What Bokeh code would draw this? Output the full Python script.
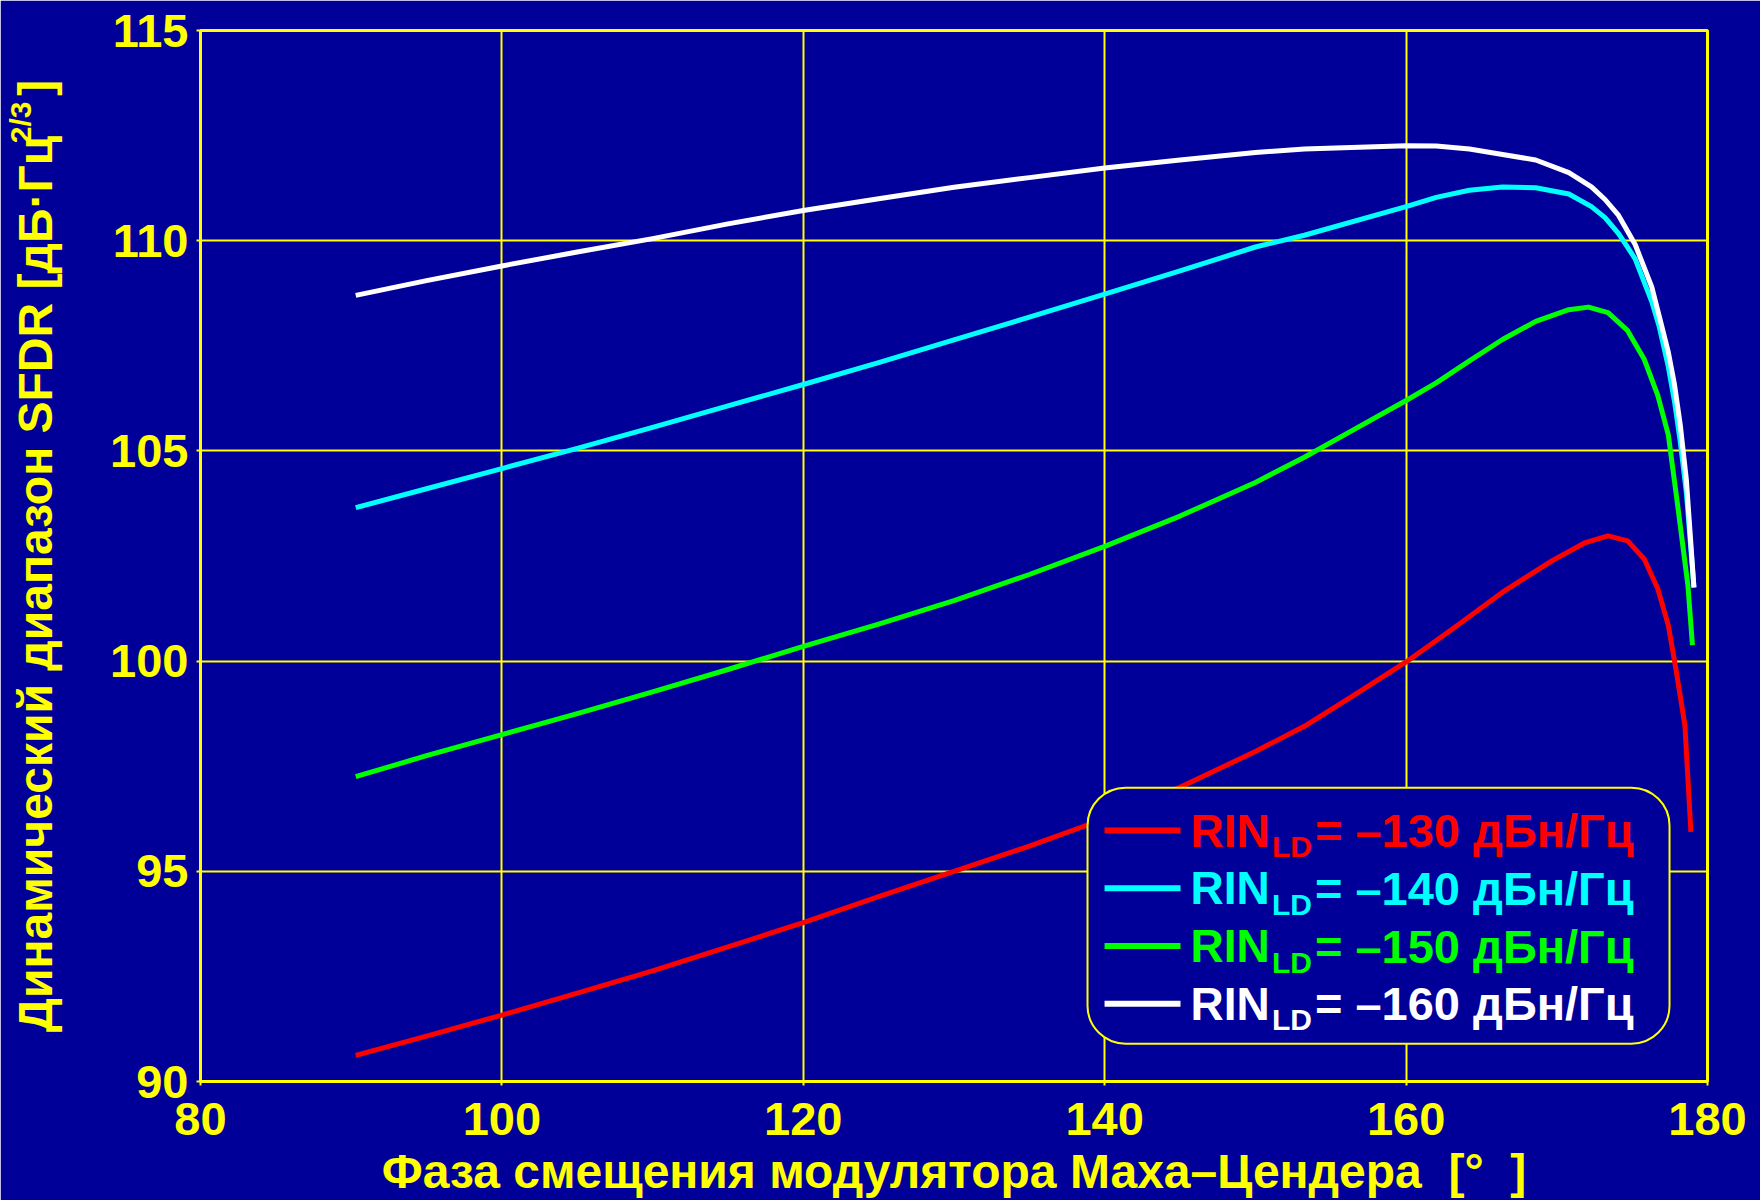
from bokeh.plotting import figure
from bokeh.models import Label, BoxAnnotation, FixedTicker, Range1d, Title
from bokeh.embed import file_html
from bokeh.resources import INLINE

# ---------------- data ----------------
x_ticks = [80, 100, 120, 140, 160, 180]
y_ticks = [90, 95, 100, 105, 110, 115]

rin_values = [-130, -140, -150, -160]
series_colors = ["#FF0000", "#00FFFF", "#00FF00", "#FFFFFF"]

x_rin130 = [90.3, 95, 100, 105, 110, 115, 120, 125, 130, 135, 140, 145, 150, 153.25, 156.5,
            160, 163.1, 166.4, 169.7, 171.9, 173.4, 174.7, 175.8, 176.7, 177.4, 177.9, 178.5, 178.9]
y_rin130 = [90.62, 91.08, 91.58, 92.1, 92.63, 93.2, 93.78, 94.4, 95.0, 95.6, 96.25, 97.0, 97.85, 98.45, 99.18,
            99.98, 100.77, 101.64, 102.39, 102.82, 102.98, 102.86, 102.43, 101.72, 100.85, 99.82, 98.47, 95.94]

x_rin140 = [90.3, 95, 100, 105, 110, 115, 120, 125, 130, 135, 140, 145, 150, 153.25, 160,
            162.0, 164.2, 166.4, 168.6, 170.8, 172.3, 173.2, 174.1, 175.2, 176.3, 176.8, 177.4, 177.8, 178.2, 178.6, 179.1]
y_rin140 = [103.65, 104.1, 104.58, 105.06, 105.56, 106.07, 106.58, 107.1, 107.64, 108.18, 108.73, 109.28, 109.85, 110.13, 110.81,
            111.03, 111.2, 111.28, 111.26, 111.11, 110.81, 110.55, 110.17, 109.57, 108.55, 107.95, 107.0, 106.2, 105.2, 104.0, 101.75]

x_rin150 = [90.3, 95, 100, 105, 110, 115, 120, 125, 130, 135, 140, 145, 150, 153.25, 156.5,
            160, 162.0, 164.2, 166.4, 168.6, 170.8, 172.1, 173.4, 174.7, 175.8, 176.7, 177.4, 178.0, 178.7, 179.0]
y_rin150 = [97.25, 97.75, 98.25, 98.75, 99.27, 99.8, 100.35, 100.88, 101.44, 102.06, 102.73, 103.45, 104.25, 104.85, 105.5,
            106.2, 106.62, 107.14, 107.65, 108.08, 108.36, 108.42, 108.29, 107.86, 107.18, 106.32, 105.38, 103.76, 101.8, 100.38]

x_rin160 = [90.3, 95, 100, 105, 110, 115, 120, 125, 130, 135, 140, 145, 150, 153.25, 160,
            162.0, 164.2, 166.4, 168.6, 170.8, 172.3, 173.2, 174.1, 175.2, 176.3, 176.8, 177.4, 177.8, 178.2, 178.6, 179.1]
y_rin160 = [108.7, 109.05, 109.4, 109.73, 110.05, 110.4, 110.72, 111.0, 111.27, 111.5, 111.73, 111.92, 112.1, 112.18, 112.26,
            112.25, 112.18, 112.05, 111.92, 111.62, 111.28, 110.98, 110.6, 109.91, 108.9, 108.2, 107.35, 106.6, 105.6, 104.3, 101.75]

series_x = [x_rin130, x_rin140, x_rin150, x_rin160]
series_y = [y_rin130, y_rin140, y_rin150, y_rin160]

x_title = "Фаза смещения модулятора Маха–Цендера\u00a0 [°\u00a0 ]"
y_title_main = "Динамический диапазон SFDR [дБ·Гц"
y_title_sup = "2/3"
y_title_end = "]"

# ---------------- styling ----------------
BG = "#000099"
YEL = "#FFFF00"
FONT = "Liberation Sans"

p = figure(width=1760, height=1200, x_range=Range1d(80, 180), y_range=Range1d(90, 115),
           output_backend="svg", toolbar_location=None,
           min_border_left=200, min_border_right=53, min_border_top=30, min_border_bottom=115,
           background_fill_color=BG, border_fill_color=BG,
           outline_line_color=YEL, outline_line_width=3)

p.xaxis.ticker = FixedTicker(ticks=x_ticks)
p.yaxis.ticker = FixedTicker(ticks=y_ticks)
p.grid.grid_line_color = YEL
p.grid.grid_line_width = 2
p.grid.grid_line_alpha = 1.0

for ax in p.axis:
    ax.axis_line_color = YEL
    ax.axis_line_width = 3
    ax.major_tick_line_color = YEL
    ax.major_tick_line_width = 2
    ax.major_tick_out = 4
    ax.major_tick_in = 0
    ax.minor_tick_line_color = None
    ax.major_label_text_color = YEL
    ax.major_label_text_font = FONT
    ax.major_label_text_font_style = "bold"
    ax.major_label_text_font_size = "47px"
    ax.axis_label_text_color = YEL
    ax.axis_label_text_font = FONT
    ax.axis_label_text_font_style = "bold"

p.yaxis.major_label_standoff = 8
p.xaxis.major_label_standoff = 17
p.xaxis.axis_label = x_title
p.xaxis.axis_label_text_font_size = "48px"
p.xaxis.axis_label_standoff = 7

# y title: main part as the axis label, gap kept for the superscript
p.yaxis.axis_label = y_title_main + "\u00a0\u00a0\u00a0" + y_title_end
p.yaxis.axis_label_text_font_size = "48px"
p.yaxis.axis_label_standoff = 45

# superscript "2/3" as a small title just outside the axis label
p.add_layout(Title(text=y_title_sup, align="right", offset=71, vertical_align="bottom",
                   text_color=YEL, text_font=FONT, text_font_style="bold",
                   text_font_size="30px", standoff=-60), "left")

for xs, ys, c in zip(series_x, series_y, series_colors):
    p.line(xs, ys, line_color=c, line_width=5, line_join="round")

# ---- legend (custom, rounded box with subscripts) ----
p.add_layout(BoxAnnotation(left=138.86, right=177.48, bottom=90.9, top=96.99,
                           fill_color=BG, fill_alpha=1.0, line_color=YEL, line_alpha=1.0,
                           line_width=2, border_radius=38))
row_step = 1.374
for i, (v, c) in enumerate(zip(rin_values, series_colors)):
    yc = 95.97 - i * row_step
    p.segment(x0=[139.99], y0=[yc], x1=[145.03], y1=[yc], line_color=c, line_width=6, level="overlay")
    p.add_layout(Label(x=145.69, y=yc, text="RIN", text_align="left", text_baseline="middle",
                       text_color=c, text_font=FONT, text_font_style="bold", text_font_size="46px"))
    p.add_layout(Label(x=151.1, y=yc - 0.38, text="LD", text_align="left", text_baseline="middle",
                       text_color=c, text_font=FONT, text_font_style="bold", text_font_size="30px"))
    p.add_layout(Label(x=153.95, y=yc, text=f"= –{abs(v)} дБн/Гц", text_align="left",
                       text_baseline="middle", text_color=c, text_font=FONT,
                       text_font_style="bold", text_font_size="47px"))

open("out.html", "w").write(file_html(p, INLINE))
